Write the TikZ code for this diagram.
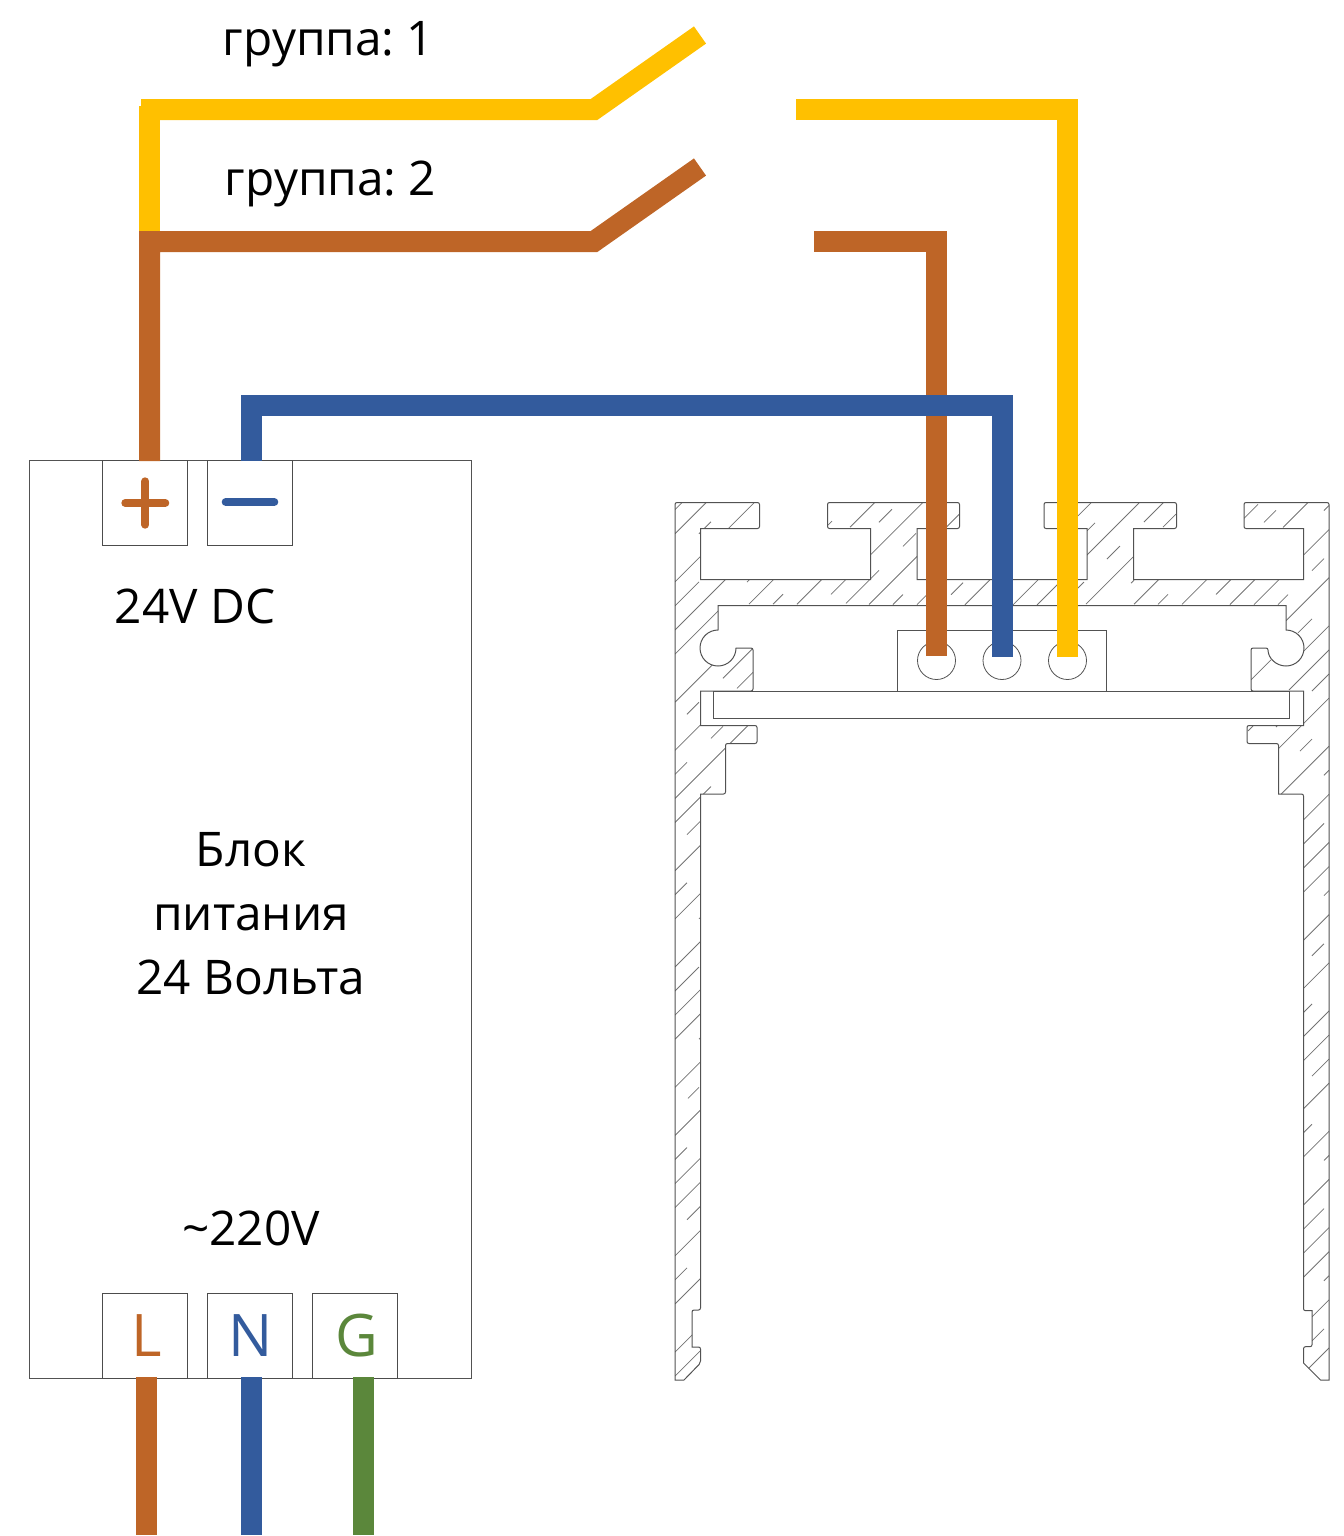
\documentclass[tikz,border=0pt]{standalone}
\usepackage{fontspec}
\setmainfont{Open Sans}
\frenchspacing
\definecolor{wirebrown}{RGB}{190,101,39}
\definecolor{wireyellow}{RGB}{255,192,0}
\definecolor{wireblue}{RGB}{51,91,157}
\definecolor{wiregreen}{RGB}{91,135,59}
\tikzset{
  wire/.style={line width=15.75pt,line cap=butt,line join=miter,miter limit=10},
  termbox/.style={draw=black!70,line width=0.6pt,minimum size=63.75pt,inner sep=0pt},
  termsign/.style={line width=6pt,line cap=round},
  caption/.style={font=\fontsize{35.8}{48}\selectfont,inner sep=0pt,anchor=base,align=center},
  termlabel/.style={font=\fontsize{44}{48}\selectfont,inner sep=0pt},
  profileline/.style={draw=black!68,line width=0.75pt},
  hatchline/.style={draw=black!55,line width=0.6pt}
}
\def\profilepath{(675,1380) [rounded corners=1.5pt] -- (675,502.5) -- (759.5,502.5) -- (759.5,528.5) [sharp corners] -- (700.5,528.5) -- (700.5,579.5) -- (870.5,579.5) -- (870.5,528.5)
  [rounded corners=1.5pt] -- (827.5,528.5) -- (827.5,502.5) -- (959.5,502.5) -- (959.5,528.5) [sharp corners] -- (917,528.5) -- (917,579.5) -- (1087,579.5) -- (1087,528.5)
  [rounded corners=1.5pt] -- (1044,528.5) -- (1044,502.5) -- (1176.5,502.5) -- (1176.5,528.5) [sharp corners] -- (1133.5,528.5) -- (1133.5,579.5) -- (1303.5,579.5) -- (1303.5,528.5)
  [rounded corners=1.5pt] -- (1244,528.5) -- (1244,502.5) -- (1329,502.5) [sharp corners] -- (1329,1380) -- (1320.5,1380) -- (1303.5,1363) [rounded corners=1.5pt] -- (1303.5,1346.7) -- (1312,1346.7) [sharp corners] -- (1312,1310.7)
  [rounded corners=1.5pt] -- (1303.5,1310.7) -- (1303.5,794) [sharp corners] -- (1278.5,794) [rounded corners=1.5pt] -- (1278.5,743.5) -- (1247,743.5) -- (1247,725.5) [sharp corners] -- (1303.5,725.5) -- (1303.5,691)
  [rounded corners=1.5pt] -- (1251,691) -- (1251,648) -- (1268,648) [sharp corners] arc[start angle=180,end angle=450,radius=13.5pt] -- (1286,605.5) -- (718,605.5) -- (718,630) arc[start angle=90,end angle=360,radius=13.5pt]
  [rounded corners=1.5pt] -- (753,648) -- (753,691) [sharp corners] -- (700.5,691) -- (700.5,725.5) [rounded corners=1.5pt] -- (757,725.5) -- (757,743.5) -- (725.5,743.5) -- (725.5,794) [sharp corners] -- (700.5,794)
  [rounded corners=1.5pt] -- (700.5,1310) -- (692,1310) [sharp corners] -- (692,1347) [rounded corners=1.5pt] -- (700.5,1347) -- (700.5,1363) [sharp corners] -- (684,1380) -- cycle}

\begin{document}
\begin{tikzpicture}[x=0.75pt,y=-0.75pt]
    \useasboundingbox (0,0) rectangle (1344,1536);

    % wire points
    \coordinate (y1) at (141,109.5);
    \coordinate (y2) at (594,109.5);
    \coordinate (y3) at (700,35);
    \coordinate (y4) at (149.5,106);
    \coordinate (y5) at (149.5,232);
    \coordinate (y6) at (796,109.5);
    \coordinate (y7) at (1067.5,109.5);
    \coordinate (y8) at (1067.5,657);

    \coordinate (b1) at (149.5,461);
    \coordinate (b2) at (149.5,241.5);
    \coordinate (b3) at (594,241.5);
    \coordinate (b4) at (700,167);
    \coordinate (b5) at (814,241.5);
    \coordinate (b6) at (936,241.5);
    \coordinate (b7) at (936,656);

    \coordinate (n1) at (251.5,461);
    \coordinate (n2) at (251.5,405.5);
    \coordinate (n3) at (1002,405.5);
    \coordinate (n4) at (1002,657);

    \coordinate (L1) at (146.5,1377);
    \coordinate (L2) at (146.5,1535);
    \coordinate (N1) at (251.5,1377);
    \coordinate (N2) at (251.5,1535);
    \coordinate (G1) at (363,1377);
    \coordinate (G2) at (363,1535);

    % profile hatching
    \begin{scope}
        \clip \profilepath;
        \foreach \k/\a/\b in {-1/675/683,0/675/707,1/699/711,2/675/760,3/675/699,4/675/727,5/675/720,5/747/751,
            6/749/775,6/828/832,7/675/713,7/773/783,7/850/875,8/687/699,8/723/753,8/797/823,8/879/892,
            9/675/701,9/737/753,9/831/847,9/871/925,10/675/687,10/711/723,10/846/879,10/903/916,
            11/675/748,11/869/960,12/675/711,12/893/903,13/917/945,14/951/963,15/965/991,
            16/1078/1091,17/1012/1039,17/1087/1095,18/1037/1060,18/1086/1139,19/1078/1084,19/1107/1120,19/1144/1164,
            20/1086/1134,20/1163/1176,21/1131/1134,22/1134/1160,23/1158/1168,23/1244/1258,24/1182/1207,24/1264/1276,
            25/1216/1231,25/1283/1308,26/1230/1255,26/1324/1329,27/1254/1280,27/1303/1329,28/1278/1288,28/1312/1324,
            29/1286/1329,30/1251/1271,30/1298/1312,31/1303/1329,32/1248/1253,32/1289/1329,33/1276/1278,33/1312/1329,
            34/1278/1329,35/1300/1312,36/1281/1329,37/1324/1329,38/1303/1329,39/1303/1324,40/1303/1329,41/1303/1329,
            42/1324/1329,43/1303/1329,44/1312/1324,45/1303/1329,46/1303/1312,47/1303/1329,48/1303/1329,49/1312/1329,
            50/1303/1329,51/1303/1312,52/1303/1329,53/1324/1329,54/1303/1329,55/1303/1324,56/1303/1329,57/1303/1329,
            58/1324/1329,59/1312/1329,60/1312/1324,61/1303/1329,
            13/687/701,14/675/701,15/675/687,16/675/701,17/699/701,18/675/701,19/675/699,20/675/701,21/675/701,22/699/701,
            23/675/701,24/688/699,25/675/701,26/675/687,27/675/701,28/675/701,29/687/701,30/675/701,31/675/687,32/675/701,
            34/675/701,35/675/701}
            \draw[hatchline] ({\a},{1208.7+24.07*\k-\a}) -- ({\b},{1208.7+24.07*\k-\b});
    \end{scope}

    % profile
    \draw[profileline] \profilepath;
    \draw[profileline] (713.5,691) rectangle (1289.5,718.5);
    \draw[profileline] (897.5,691) -- (897.5,630) -- (1106.5,630) -- (1106.5,691) -- cycle;
    \foreach \x in {936.5,1002,1067.5}
        \draw[profileline,line width=0.6pt] (\x,660.5) circle (14.25pt);

    % power supply
    \draw[profileline,line width=0.6pt] (29.5,460.5) rectangle (471,1378.5);
    \node[termbox] (plus) at (145,503) {};
    \node[termbox] (minus) at (250,503) {};
    \node[termbox] (termL) at (145,1336) {};
    \node[termbox] (termN) at (250,1336) {};
    \node[termbox] (termG) at (355,1336) {};

    \draw[termsign,wirebrown] (125.3,503) -- (165.3,503);
    \draw[termsign,wirebrown] (145.3,481.3) -- (145.3,524.7);
    \draw[termsign,wireblue] (225.7,502) -- (274.3,502);

    \node[termlabel,text=wirebrown] (labelL) at (147,1336) {L};
    \node[termlabel,text=wireblue] (labelN) at (251,1336) {N};
    \node[termlabel,text=wiregreen] (labelG) at (357,1336) {G};

    \node[caption] (dc) at (195,623) {24V DC};
    \node[caption] (psu) at (251,994) {Блок\\питания\\24 Вольта};
    \node[caption] (ac) at (251,1245) {\textasciitilde 220V};
    \node[caption] (group1) at (328.5,55) {группа: 1};
    \node[caption] (group2) at (330.5,195) {группа: 2};

    % wires
    \draw[wire,wireyellow] (y4) -- (y5);
    \draw[wire,wireyellow] (y1) -- (y2) -- (y3);
    \draw[wire,wireyellow] (y6) -- (y7) -- (y8);
    \draw[wire,wirebrown] (b1) -- (b2) -- (b3) -- (b4);
    \draw[wire,wirebrown] (b5) -- (b6) -- (b7);
    \draw[wire,wireblue] (n1) -- (n2) -- (n3) -- (n4);
    \draw[wire,wirebrown] (L1) -- (L2);
    \draw[wire,wireblue] (N1) -- (N2);
    \draw[wire,wiregreen] (G1) -- (G2);
\end{tikzpicture}
\end{document}
